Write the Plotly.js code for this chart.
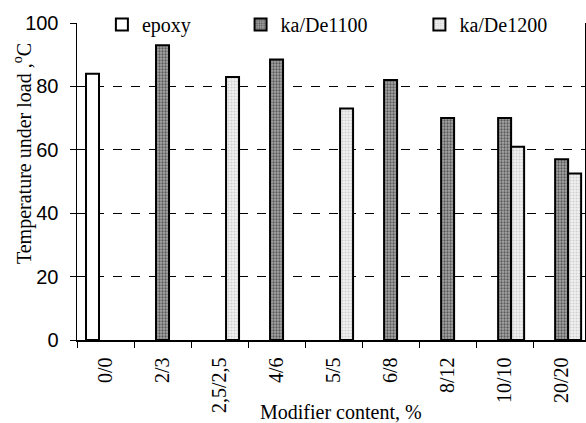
<!DOCTYPE html>
<html>
<head>
<meta charset="utf-8">
<script src="https://cdn.plot.ly/plotly-3.0.1.min.js"></script>
<style>html,body{margin:0;padding:0;background:#fff;}#chart{width:586px;height:423px;}</style>
</head>
<body>
<div id="chart"></div>
<script>
const categories = ["0/0", "2/3", "2,5/2,5", "4/6", "5/5", "6/8", "8/12", "10/10", "20/20"];
const epoxy = [84, null, null, null, null, null, null, null, null];
const kaDe1100 = [null, 93, null, 88.5, null, 82, 70, 70, 57];
const kaDe1200 = [null, null, 83, null, 73, null, null, 61, 52.5];
const seriesNames = ["epoxy", "ka/De1100", "ka/De1200"];
const yTicks = [0, 20, 40, 60, 80, 100];
const gridTicks = [20, 40, 60, 80];

const serif = "Liberation Serif";
const sans = "Liberation Sans";
const FS = 20;

const traces = [
  {type: "bar", name: seriesNames[0], x: categories, y: epoxy, legend: "legend",
   marker: {color: "#ffffff", line: {color: "#000000", width: 2}}},
  {type: "bar", name: seriesNames[1], x: categories, y: kaDe1100, legend: "legend2",
   marker: {color: "#8a8a8a", line: {color: "#000000", width: 2},
            pattern: {shape: ".", size: 3, solidity: 0.45, fgcolor: "#5a5a5a", bgcolor: "#a8a8a8", fillmode: "replace"}}},
  {type: "bar", name: seriesNames[2], x: categories, y: kaDe1200, legend: "legend3",
   marker: {color: "#e4e4e4", line: {color: "#000000", width: 2},
            pattern: {shape: ".", size: 3, solidity: 0.4, fgcolor: "#cfcfcf", bgcolor: "#f2f2f2", fillmode: "replace"}}},
  {type: "scatter", x: [], y: [], yaxis: "y2", showlegend: false, hoverinfo: "skip"}
];

const legendBase = {orientation: "h", yanchor: "middle", y: 0.995, xanchor: "left",
  bgcolor: "rgba(0,0,0,0)", font: {family: serif, size: FS, color: "#000"}};

const layout = {
  width: 586, height: 423,
  margin: {l: 77, r: 1, t: 23, b: 83},
  paper_bgcolor: "#ffffff", plot_bgcolor: "#ffffff",
  font: {family: serif, size: FS, color: "#000"},
  barmode: "group", bargap: 0.316, bargroupgap: 0,
  showlegend: true,
  legend: Object.assign({}, legendBase, {x: 0.049}),
  legend2: Object.assign({}, legendBase, {x: 0.322}),
  legend3: Object.assign({}, legendBase, {x: 0.674}),
  xaxis: {
    type: "category", range: [-0.5, 8.41],
    tickson: "boundaries", ticks: "outside", ticklen: 6, tickcolor: "#000", tickwidth: 1,
    showline: true, linecolor: "#000", linewidth: 1.5,
    showgrid: false, tickangle: -90, ticklabelstandoff: 8,
    tickfont: {family: serif, size: FS, color: "#000"}
  },
  yaxis: {
    range: [0, 100], tickvals: yTicks, ticks: "outside", ticklen: 6, tickcolor: "#000", tickwidth: 1,
    showline: true, mirror: true, linecolor: "#000", linewidth: 1.5,
    showgrid: false, zeroline: false, ticklabelstandoff: 7,
    tickfont: {family: sans, size: FS, color: "#000"}
  },
  yaxis2: {
    overlaying: "y", range: [0, 100], tickvals: gridTicks, showticklabels: false, ticks: "",
    showgrid: true, gridcolor: "#000", gridwidth: 1, griddash: "dash",
    showline: false, zeroline: false
  },
  annotations: [
    {text: "Temperature under load ,<sup>o</sup>C", textangle: -90,
     xref: "paper", yref: "paper", x: -0.106, y: 0.587, xanchor: "center", yanchor: "middle",
     showarrow: false, font: {family: serif, size: FS, color: "#000"}},
    {text: "Modifier content, %",
     xref: "paper", yref: "paper", x: 0.52, y: -0.227, xanchor: "center", yanchor: "middle",
     showarrow: false, font: {family: serif, size: FS, color: "#000"}}
  ]
};

Plotly.newPlot("chart", traces, layout, {displayModeBar: false, staticPlot: true});
</script>
</body>
</html>
